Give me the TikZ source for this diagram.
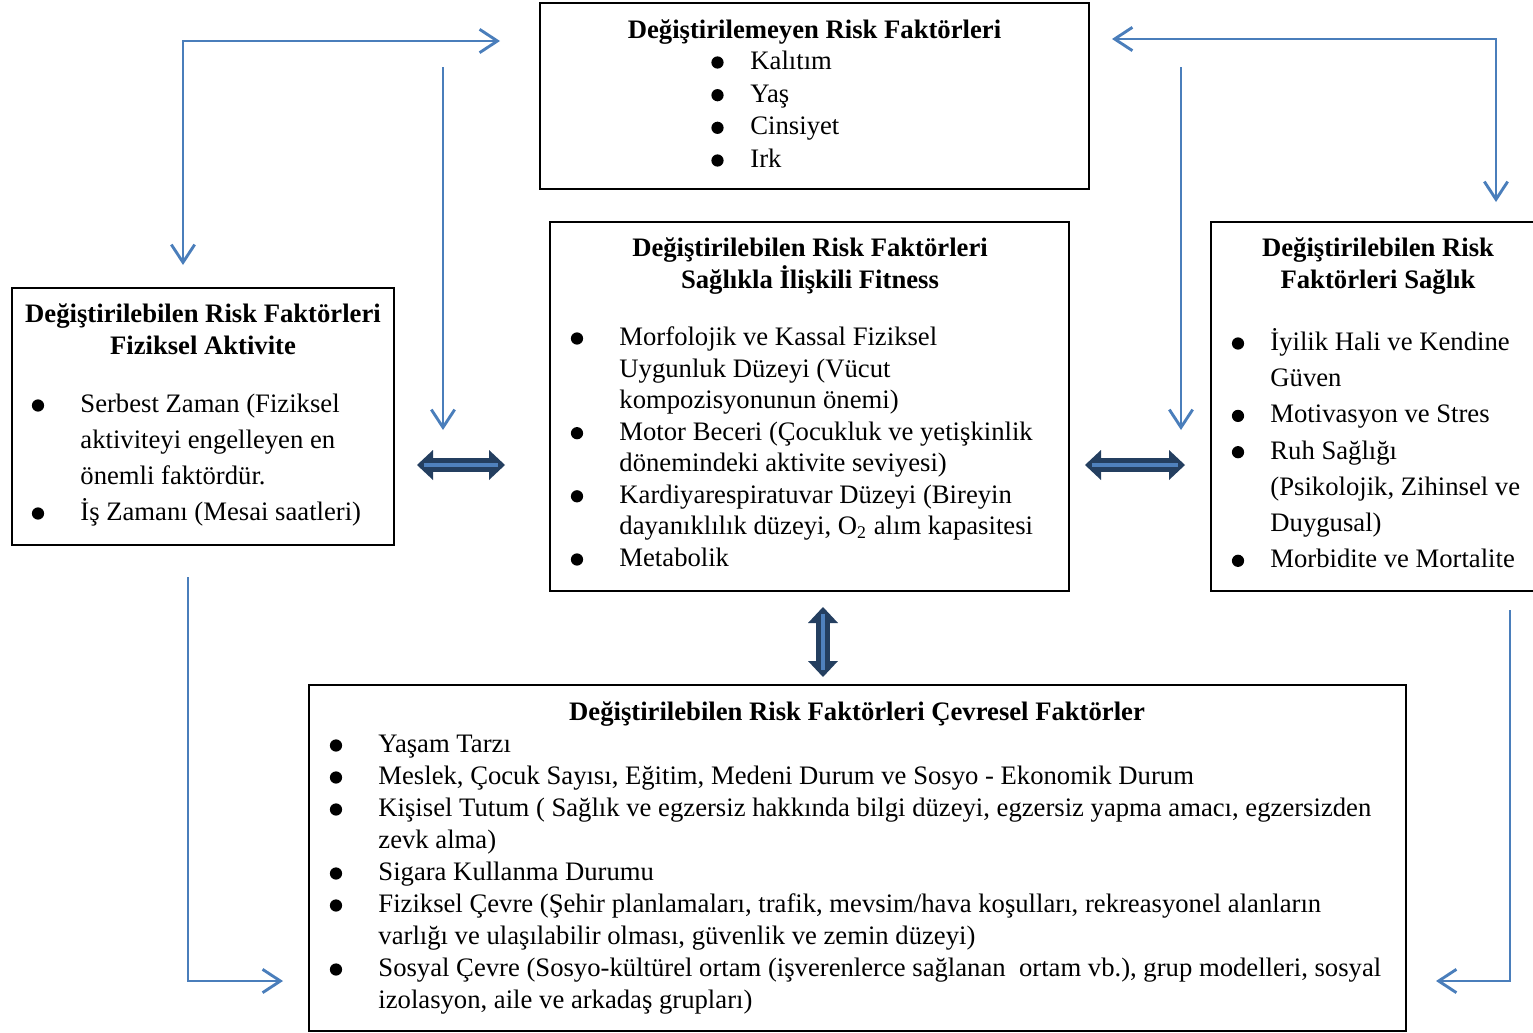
\documentclass[tikz,border=0pt]{standalone}
\usepackage{fontspec}
\setmainfont{Liberation Serif}
\usetikzlibrary{arrows.meta}

\begin{document}
\begin{tikzpicture}[x=0.45pt,y=-0.45pt,
  box/.style={draw=black,line width=0.9pt,inner sep=0pt},
  title/.style={font=\fontsize{12}{14.2}\selectfont\bfseries,anchor=base,inner sep=0pt},
  list/.style={anchor=base west,inner sep=0pt},
  dot/.style={fill=black},
  link/.style={draw=linkblue,line width=1.3pt,>={Straight Barb[length=8pt,width=10.5pt]}},
  fat/.style={draw=darknavy,line width=6.3pt,
    {Triangle[length=7.2pt,width=13.5pt,line width=0pt]}-{Triangle[length=7.2pt,width=13.5pt,line width=0pt]}},
  fatin/.style={draw=lightblue,line width=1.8pt,shorten <=3.2pt,shorten >=3.2pt}]
  % Define colors for the arrows
  \definecolor{linkblue}{RGB}{74,126,187}
  \definecolor{darknavy}{RGB}{36,63,96}
  \definecolor{lightblue}{RGB}{79,129,189}

  \useasboundingbox (0,0) rectangle (1533,1033);

  % Draw the five boxes
  \node[box,minimum width=247.05pt,minimum height=83.7pt] (fixed) at (814.5,96) {};
  \node[box,minimum width=233.55pt,minimum height=166.05pt] (fitness) at (809.5,406.5) {};
  \node[box,minimum width=171.9pt,minimum height=115.65pt] (activity) at (203,416.5) {};
  \node[box,minimum width=147.15pt,minimum height=166.05pt] (health) at (1374.5,406.5) {};
  \node[box,minimum width=493.65pt,minimum height=155.7pt] (environ) at (857.5,858) {};

  % Add titles
  \node[title] (fixedT) at (814.5,38.5) {\begin{tabular}[t]{@{}c@{}}Değiştirilemeyen Risk Faktörleri\end{tabular}};
  \node[title] (fitnessT) at (810,256.5) {\begin{tabular}[t]{@{}c@{}}Değiştirilebilen Risk Faktörleri\\Sağlıkla İlişkili Fitness\end{tabular}};
  \node[title] (activityT) at (203,322.5) {\begin{tabular}[t]{@{}c@{}}Değiştirilebilen Risk Faktörleri\\Fiziksel Aktivite\end{tabular}};
  \node[title] (healthT) at (1378,256.5) {\begin{tabular}[t]{@{}c@{}}Değiştirilebilen Risk\\Faktörleri Sağlık\end{tabular}};
  \node[title] (environT) at (857,720.5) {\begin{tabular}[t]{@{}c@{}}Değiştirilebilen Risk Faktörleri Çevresel Faktörler\end{tabular}};

  % Add list texts
  \node[list,font=\fontsize{12}{14.7}\selectfont] (fixedL) at (750,69.5) {\begin{tabular}[t]{@{}l@{}}
    Kalıtım\\
    Yaş\\
    Cinsiyet\\
    Irk
  \end{tabular}};
  \node[list,font=\fontsize{12}{14.2}\selectfont] (fitnessL) at (619,345.5) {\begin{tabular}[t]{@{}l@{}}
    Morfolojik ve Kassal Fiziksel\\
    Uygunluk Düzeyi (Vücut\\
    kompozisyonunun önemi)\\
    Motor Beceri (Çocukluk ve yetişkinlik\\
    dönemindeki aktivite seviyesi)\\
    Kardiyarespiratuvar Düzeyi (Bireyin\\
    dayanıklılık düzeyi, O\textsubscript{2} alım kapasitesi\\
    Metabolik
  \end{tabular}};
  \node[list,font=\fontsize{12}{16.2}\selectfont] (activityL) at (80,412.5) {\begin{tabular}[t]{@{}l@{}}
    Serbest Zaman (Fiziksel\\
    aktiviteyi engelleyen en\\
    önemli faktördür.\\
    İş Zamanı (Mesai saatleri)
  \end{tabular}};
  \node[list,font=\fontsize{12}{16.3}\selectfont] (healthL) at (1270,350.5) {\begin{tabular}[t]{@{}l@{}}
    İyilik Hali ve Kendine\\
    Güven\\
    Motivasyon ve Stres\\
    Ruh Sağlığı\\
    (Psikolojik, Zihinsel ve\\
    Duygusal)\\
    Morbidite ve Mortalite
  \end{tabular}};
  \node[list,font=\fontsize{12}{14.4}\selectfont] (environL) at (378,752.5) {\begin{tabular}[t]{@{}l@{}}
    Yaşam Tarzı\\
    Meslek, Çocuk Sayısı, Eğitim, Medeni Durum ve Sosyo - Ekonomik Durum\\
    Kişisel Tutum ( Sağlık ve egzersiz hakkında bilgi düzeyi, egzersiz yapma amacı, egzersizden\\
    zevk alma)\\
    Sigara Kullanma Durumu\\
    Fiziksel Çevre (Şehir planlamaları, trafik, mevsim/hava koşulları, rekreasyonel alanların\\
    varlığı ve ulaşılabilir olması, güvenlik ve zemin düzeyi)\\
    Sosyal Çevre (Sosyo-kültürel ortam (işverenlerce sağlanan\ \ ortam vb.), grup modelleri, sosyal\\
    izolasyon, aile ve arkadaş grupları)
  \end{tabular}};

  % Draw the bullets
  \foreach \y in {62.5,95.2,127.8,160.5}
    \fill[dot] (717.5,\y) circle (2.75pt);
  \foreach \y in {338.5,433.2,496.3,559.5}
    \fill[dot] (577,\y) circle (2.75pt);
  \foreach \y in {405.5,513.5}
    \fill[dot] (38,\y) circle (2.75pt);
  \foreach \y in {343.5,415.9,452.2,560.8}
    \fill[dot] (1238,\y) circle (2.75pt);
  \foreach \y in {745.5,777.5,809.5,873.5,905.5,969.5}
    \fill[dot] (336,\y) circle (2.75pt);

  % Arrow end points
  \coordinate (a1) at (183,265);
  \coordinate (a2) at (500,41);
  \coordinate (b1) at (1112,39);
  \coordinate (b2) at (1496,202);
  \coordinate (c1) at (443,67);
  \coordinate (c2) at (443,430);
  \coordinate (d1) at (1181,67);
  \coordinate (d2) at (1181,430);
  \coordinate (e1) at (188,577);
  \coordinate (e2) at (283,981);
  \coordinate (f1) at (1510,610);
  \coordinate (f2) at (1436,981);
  \coordinate (g1) at (417,465);
  \coordinate (g2) at (505,465);
  \coordinate (h1) at (1085,465);
  \coordinate (h2) at (1185,465);
  \coordinate (k1) at (823,607);
  \coordinate (k2) at (823,677);

  % Draw thin arrows
  \draw[link,<->] (a1) |- (a2);
  \draw[link,<->] (b1) -| (b2);
  \draw[link,->] (c1) -- (c2);
  \draw[link,->] (d1) -- (d2);
  \draw[link,->] (e1) |- (e2);
  \draw[link,->] (f1) |- (f2);

  % Draw block arrows
  \draw[fat] (g1) -- (g2);
  \draw[fatin] (g1) -- (g2);
  \draw[fat] (h1) -- (h2);
  \draw[fatin] (h1) -- (h2);
  \draw[fat] (k1) -- (k2);
  \draw[fatin] (k1) -- (k2);
\end{tikzpicture}
\end{document}
